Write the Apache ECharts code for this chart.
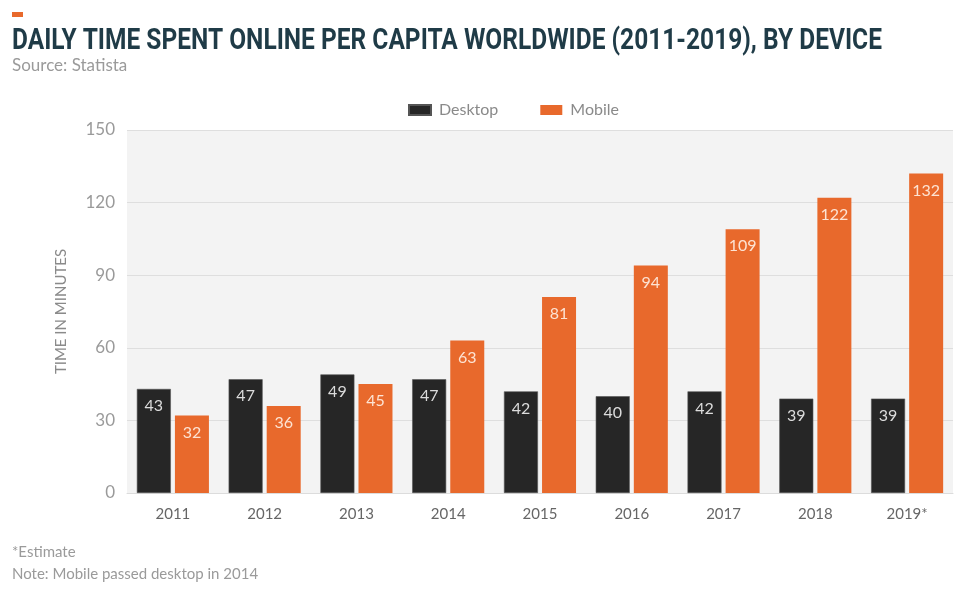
<!DOCTYPE html>
<html>
<head>
<meta charset="utf-8">
<script src="https://cdn.jsdelivr.net/npm/echarts@6/dist/echarts.min.js"></script>
<style>
  html, body { margin: 0; padding: 0; background: #ffffff; }
  #chart { width: 969px; height: 589px; }
</style>
</head>
<body>
<div id="chart"></div>
<script>
// Years on the category axis
const years = ['2011', '2012', '2013', '2014', '2015', '2016', '2017', '2018', '2019*'];
// Minutes per day spent online, per device
const desktopMinutes = [43, 47, 49, 47, 42, 40, 42, 39, 39];
const mobileMinutes = [32, 36, 45, 63, 81, 94, 109, 122, 132];
// Value axis ticks
const yTicks = [0, 30, 60, 90, 120, 150];

const FONT = 'Lato, "Open Sans", sans-serif';
const ORANGE = '#e8692c';
const DARK = '#262626';

const chart = echarts.init(document.getElementById('chart'));

chart.setOption({
  backgroundColor: '#ffffff',
  animation: false,
  title: {
    text: 'Source: Statista',
    left: 7,
    top: 52,
    textStyle: { fontFamily: FONT, fontSize: 17, fontWeight: 'normal', color: '#9a9a9a' }
  },
  graphic: [
    { type: 'rect', left: 12, top: 12, shape: { width: 11, height: 5 }, style: { fill: ORANGE } },
    {
      type: 'text', x: 12, y: 27, scaleX: 0.845,
      style: {
        text: 'DAILY TIME SPENT ONLINE PER CAPITA WORLDWIDE (2011-2019), BY DEVICE',
        font: 'bold 29px Roboto, sans-serif',
        fill: '#1f3b47'
      }
    },
    {
      type: 'text', x: 12, y: 545,
      style: { text: '*Estimate', font: '15px ' + FONT, fill: '#9a9a9a' }
    },
    {
      type: 'text', x: 12, y: 567,
      style: { text: 'Note: Mobile passed desktop in 2014', font: '15px ' + FONT, fill: '#9a9a9a' }
    }
  ],
  legend: {
    top: 97,
    left: 403,
    itemWidth: 22,
    itemHeight: 10,
    itemGap: 42,
    icon: 'rect',
    textStyle: { fontFamily: FONT, fontSize: 16, color: '#8a8a8a', padding: [0, 0, 0, 3] },
    data: ['Desktop', 'Mobile']
  },
  grid: {
    left: 127, right: 16, top: 130, bottom: 96,
    show: true, backgroundColor: '#f3f3f3', borderWidth: 0
  },
  xAxis: {
    type: 'category',
    data: years,
    axisTick: { show: false },
    axisLine: { show: true, lineStyle: { color: '#dcdcdc' } },
    axisLabel: { fontFamily: FONT, fontSize: 15, color: '#666666', margin: 14 }
  },
  yAxis: {
    type: 'value',
    min: yTicks[0],
    max: yTicks[yTicks.length - 1],
    interval: yTicks[1] - yTicks[0],
    name: 'TIME IN MINUTES',
    nameLocation: 'middle',
    nameGap: 58,
    nameRotate: 90,
    nameTextStyle: { fontFamily: FONT, fontSize: 15, color: '#8a8a8a' },
    axisLine: { show: false },
    axisTick: { show: false },
    splitLine: { lineStyle: { color: '#dedede', width: 1 } },
    axisLabel: { fontFamily: FONT, fontSize: 17, color: '#9a9a9a', margin: 12 }
  },
  series: [
    {
      name: 'Desktop',
      type: 'bar',
      data: desktopMinutes,
      barWidth: 34,
      barGap: '12%',
      itemStyle: { color: DARK, borderColor: '#555555', borderWidth: 0.6 },
      label: {
        show: true, position: 'insideTop', distance: 9,
        fontFamily: FONT, fontSize: 16, color: '#dcdcdc'
      }
    },
    {
      name: 'Mobile',
      type: 'bar',
      data: mobileMinutes,
      barWidth: 34,
      itemStyle: { color: ORANGE },
      label: {
        show: true, position: 'insideTop', distance: 9,
        fontFamily: FONT, fontSize: 16, color: '#fde3d3'
      }
    }
  ]
});
</script>
</body>
</html>
